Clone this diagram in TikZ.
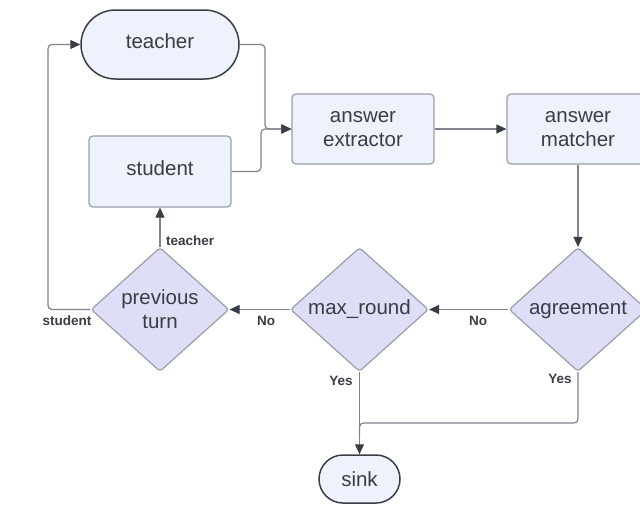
\documentclass[tikz,border=0pt]{standalone}
\usepackage{fontspec}
\setmainfont{Liberation Sans}
\usetikzlibrary{shapes.geometric,arrows.meta}
\definecolor{boxfill}{HTML}{EDF2FC}
\definecolor{decfill}{HTML}{DEDEF7}
\definecolor{edge}{HTML}{9A9EA9}
\definecolor{ink}{HTML}{3A3D45}
\definecolor{wire}{HTML}{80838E}

\begin{document}
\begin{tikzpicture}[x=1pt,y=-1pt,
  nodefont/.style={text=ink, font=\fontsize{20.5}{24}\selectfont},
  proc/.style={nodefont, draw=edge, line width=1.2pt, fill=boxfill,
    rounded corners=4pt, minimum width=142pt, minimum height=70pt,
    inner sep=0pt, align=center},
  term/.style={nodefont, draw=ink, line width=1.5pt, fill=boxfill,
    inner sep=0pt},
  decision/.style={nodefont, diamond, draw=edge, line width=1.2pt,
    fill=decfill, minimum width=138pt, minimum height=124pt, inner sep=0pt,
    aspect=1.1, rounded corners=3pt, align=center},
  conn/.style={draw=wire, line width=1.2pt, rounded corners=4pt,
    -{Triangle[length=10pt,width=9pt,color=ink]}},
  wireonly/.style={draw=wire, line width=1.2pt, rounded corners=4pt},
  lbl/.style={text=ink, font=\bfseries\fontsize{13.5}{15}\selectfont, inner sep=0pt}
]
\useasboundingbox (0,0) rectangle (640,504);

% nodes
\node[term, rounded corners=34.5pt, minimum width=158pt, minimum height=69pt,
  text depth=6pt] (teacher) at (160,44.5) {teacher};
\node[proc, minimum height=71pt, text depth=6pt] (student) at (160,171.5) {student};
\node[proc] (extractor) at (363,129) {answer\\extractor};
\node[proc] (matcher) at (578,129) {answer\\matcher};
\node[decision] (agree) at (578,309.5) {agreement};
\node[decision] (maxr) at (359.5,309.5) {max\_round};
\node[decision] (prev) at (160,309.5) {previous\\turn};
\node[term, rounded corners=24pt, minimum width=81pt, minimum height=48pt]
  (sink) at (359.5,479) {sink};

% coordinates where connectors bend
\coordinate (tbend) at (265,129);
\coordinate (sbend) at (261,129);
\coordinate (loop) at (48,309.5);
\coordinate (join) at (359.5,423);

% connectors
\draw[conn] (teacher.east) -| (tbend) -- (extractor.west);
\draw[conn] (student.east) -| (sbend) -- (extractor.west);
\draw[conn] (extractor.east) -- (matcher.west);
\draw[conn] (matcher.south) -- (agree.north);
\draw[conn] (agree.west) -- (maxr.east);
\draw[conn] (maxr.west) -- (prev.east);
\draw[conn] (prev.north) -- (student.south);
\draw[conn] (prev.west) -- (loop) |- (teacher.west);
\draw[conn] (maxr.south) -- (sink.north);
\draw[wireonly] (agree.south) |- (join) -- ++(0,14);

% connector labels
\node[lbl, anchor=west] (lteacher) at (166,241) {teacher};
\node[lbl] (lstudent) at (67,320.5) {student};
\node[lbl] (lno1) at (478,321) {No};
\node[lbl] (lno2) at (266,321) {No};
\node[lbl] (lyes1) at (341,381) {Yes};
\node[lbl] (lyes2) at (560,378.5) {Yes};
\end{tikzpicture}
\end{document}
